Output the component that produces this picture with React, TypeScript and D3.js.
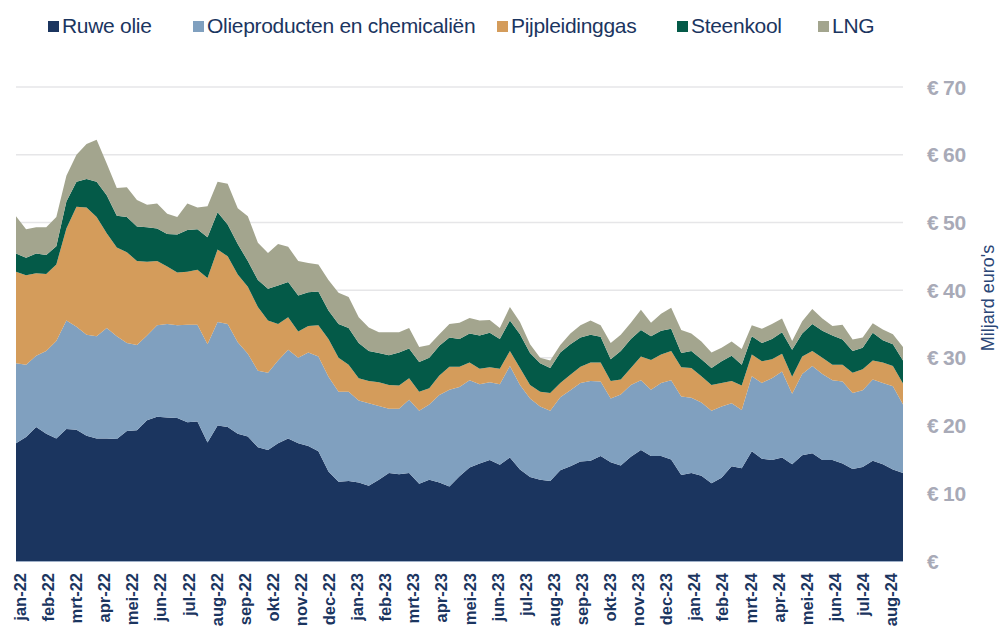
import { useEffect, useRef } from 'react';
import * as d3 from 'd3';

// Weekly-ish readings (miljard euro), jan-22 .. aug-24
const ruweOlie = [
  17.4, 18.3, 19.8, 18.8, 18.1, 19.5, 19.4, 18.5, 18.1, 18.1,
  18.0, 19.2, 19.3, 20.8, 21.3, 21.2, 21.1, 20.5, 20.6, 17.5,
  20.0, 19.8, 18.8, 18.4, 16.8, 16.4, 17.4, 18.1, 17.4, 17.0,
  16.2, 13.2, 11.7, 11.8, 11.6, 11.1, 12.0, 13.0, 12.8, 13.0,
  11.4, 12.0, 11.6, 11.0, 12.5, 13.8, 14.4, 14.9, 14.2, 15.3,
  13.5, 12.4, 12.0, 11.8, 13.4, 14.0, 14.7, 14.8, 15.5, 14.6,
  14.1, 15.4, 16.4, 15.5, 15.5, 15.0, 12.7, 13.0, 12.6, 11.5,
  12.3, 14.0, 13.7, 16.2, 15.1, 14.9, 15.3, 14.3, 15.6, 15.9,
  14.9, 14.9, 14.4, 13.6, 13.9, 14.8, 14.3, 13.5, 13.0,
];
const olieproducten = [
  11.8, 10.7, 10.5, 12.2, 14.4, 16.0, 15.2, 14.9, 15.1, 16.3,
  15.2, 13.0, 12.6, 12.5, 13.5, 13.8, 13.7, 14.4, 14.3, 14.5,
  15.3, 15.2, 13.5, 12.2, 11.3, 11.4, 12.2, 13.1, 12.6, 13.8,
  14.0, 14.0, 13.3, 13.2, 12.1, 12.2, 10.9, 9.5, 9.7, 10.8,
  10.8, 11.1, 12.9, 14.3, 13.2, 12.9, 11.7, 11.5, 11.9, 13.5,
  12.5, 11.6, 10.8, 10.4, 10.8, 11.2, 11.6, 11.8, 11.0, 9.4,
  10.5, 10.6, 10.3, 9.8, 10.8, 11.7, 11.6, 11.1, 10.8, 10.7,
  10.5, 9.3, 8.6, 11.1, 11.2, 12.1, 12.7, 10.4, 12.0, 12.9,
  12.7, 11.8, 12.1, 11.2, 11.3, 12.0, 12.0, 12.3, 10.1,
];
const pijpleidinggas = [
  13.5, 13.2, 12.2, 11.4, 11.3, 13.6, 17.7, 18.8, 17.6, 14.0,
  13.1, 13.4, 12.4, 10.9, 9.5, 8.5, 7.8, 7.8, 8.1, 9.8,
  10.7, 10.0, 10.0, 9.9, 9.4, 7.7, 5.4, 4.8, 3.9, 3.9,
  4.6, 5.6, 5.0, 4.0, 3.3, 3.3, 3.5, 3.5, 3.4, 3.2,
  2.8, 2.4, 2.9, 3.4, 3.0, 2.6, 2.3, 2.2, 2.3, 2.2,
  2.5, 2.0, 2.2, 2.6, 2.1, 2.3, 2.4, 2.7, 2.8, 2.6,
  2.2, 2.5, 3.5, 4.4, 4.2, 4.3, 4.3, 4.4, 3.9, 3.8,
  3.5, 3.3, 3.6, 3.2, 3.2, 2.8, 2.6, 2.5, 2.6, 2.2,
  2.4, 2.3, 2.5, 3.0, 3.1, 2.8, 3.0, 3.0, 3.1,
];
const steenkool = [
  2.7, 2.6, 2.9, 2.8, 2.7, 4.0, 3.7, 4.2, 5.2, 5.6,
  4.7, 5.2, 5.1, 5.1, 4.8, 4.8, 5.6, 6.2, 6.0, 6.0,
  5.5, 4.7, 4.5, 3.8, 4.0, 4.7, 5.7, 5.2, 5.3, 5.0,
  5.0, 4.2, 5.0, 5.4, 5.2, 4.4, 4.3, 4.4, 4.9, 4.4,
  4.4, 4.5, 4.4, 4.3, 4.1, 4.3, 4.9, 5.1, 4.4, 4.5,
  5.0, 4.7, 4.2, 3.7, 4.5, 4.5, 4.3, 4.1, 3.8, 3.2,
  4.2, 4.3, 3.9, 3.5, 3.5, 3.3, 2.1, 2.5, 2.5, 2.5,
  3.2, 3.7, 3.1, 2.7, 2.7, 3.0, 3.2, 4.0, 3.4, 4.0,
  4.0, 4.3, 3.7, 3.2, 3.2, 4.1, 3.3, 3.2, 3.4,
];
const lng = [
  5.5, 4.2, 3.9, 4.1, 4.3, 3.8, 4.0, 5.2, 6.2, 4.7,
  4.1, 4.4, 3.9, 3.3, 3.7, 3.0, 2.6, 3.9, 3.2, 4.6,
  4.5, 6.0, 5.3, 6.6, 5.5, 5.3, 6.1, 5.2, 5.1, 4.3,
  4.0, 4.5, 4.6, 4.6, 3.8, 3.5, 3.1, 3.4, 3.0, 3.0,
  2.2, 1.9, 1.7, 2.0, 2.4, 2.3, 2.2, 1.9, 1.6, 2.0,
  1.8, 1.3, 0.8, 1.1, 1.1, 1.6, 1.8, 2.1, 1.7, 2.4,
  2.4, 2.4, 3.0, 2.0, 2.5, 3.1, 3.4, 2.6, 2.6, 2.3,
  2.0, 2.1, 2.3, 1.6, 2.1, 2.2, 2.0, 1.3, 1.8, 2.2,
  1.8, 1.4, 2.2, 1.7, 1.5, 1.4, 1.6, 1.5, 2.0,
];

const months = [
  'jan-22', 'feb-22', 'mrt-22', 'apr-22', 'mei-22', 'jun-22', 'jul-22', 'aug-22',
  'sep-22', 'okt-22', 'nov-22', 'dec-22', 'jan-23', 'feb-23', 'mrt-23', 'apr-23',
  'mei-23', 'jun-23', 'jul-23', 'aug-23', 'sep-23', 'okt-23', 'nov-23', 'dec-23',
  'jan-24', 'feb-24', 'mrt-24', 'apr-24', 'mei-24', 'jun-24', 'jul-24', 'aug-24',
];
const yTicks = [0, 10, 20, 30, 40, 50, 60, 70];

const series = [
  { key: 'ruwe', label: 'Ruwe olie', color: '#1b355f', values: ruweOlie },
  { key: 'olie', label: 'Olieproducten en chemicaliën', color: '#80a0bf', values: olieproducten },
  { key: 'pijp', label: 'Pijpleidinggas', color: '#d49c5b', values: pijpleidinggas },
  { key: 'steen', label: 'Steenkool', color: '#045a48', values: steenkool },
  { key: 'lng', label: 'LNG', color: '#a3a58e', values: lng },
];
const legendX = [48, 193, 497, 677, 818];

const W = 1003;
const H = 628;
const FONT = '"Liberation Sans", Arial, sans-serif';

export default function App() {
  const svgRef = useRef<SVGSVGElement>(null);

  useEffect(() => {
    if (!svgRef.current) return;
    const svg = d3.select(svgRef.current);
    svg.selectAll('*').remove();

    const rows = ruweOlie.map((_, i) => {
      const r: Record<string, number> = { i };
      series.forEach(s => { r[s.key] = s.values[i]; });
      return r;
    });

    const x = d3.scaleLinear().domain([0, rows.length - 1]).range([16, 903]);
    const y = d3.scaleLinear().domain([0, 70]).range([561, 87]);
    const xm = d3.scalePoint<string>().domain(months).range([20, 891]);

    // gridlines
    svg.append('g')
      .selectAll('line')
      .data(yTicks)
      .join('line')
      .attr('x1', 16)
      .attr('x2', 903)
      .attr('y1', d => y(d))
      .attr('y2', d => y(d))
      .attr('stroke', '#e6e6e8')
      .attr('stroke-width', 1.5);

    const stack = d3.stack<Record<string, number>>().keys(series.map(s => s.key));
    const layers = stack(rows);

    const area = d3.area<d3.SeriesPoint<Record<string, number>>>()
      .x(d => x(d.data.i))
      .y0(d => y(d[0]))
      .y1(d => y(d[1]));

    svg.append('g')
      .selectAll('path')
      .data(layers)
      .join('path')
      .attr('d', d => area(d) as string)
      .attr('fill', (_d, i) => series[i].color);

    // baseline
    svg.append('line')
      .attr('x1', 16).attr('x2', 903)
      .attr('y1', y(0) + 0.5).attr('y2', y(0) + 0.5)
      .attr('stroke', '#9fb0c8').attr('stroke-width', 1);

    // y-axis labels (right)
    svg.append('g')
      .selectAll('text')
      .data(yTicks)
      .join('text')
      .attr('x', 927)
      .attr('y', d => y(d))
      .attr('dy', '0.36em')
      .attr('fill', '#a8aab7')
      .style('font-family', FONT)
      .style('font-weight', 'bold')
      .style('font-size', '21px')
      .text(d => (d === 0 ? '€' : `€\u2009${d}`));

    svg.append('text')
      .attr('transform', `translate(994,298) rotate(-90)`)
      .attr('text-anchor', 'middle')
      .attr('fill', '#2a4676')
      .style('font-family', FONT)
      .style('font-size', '18px')
      .text("Miljard euro's");

    // month labels
    svg.append('g')
      .selectAll('text')
      .data(months)
      .join('text')
      .attr('transform', d => `translate(${xm(d)! + 6},573) rotate(-90)`)
      .attr('text-anchor', 'end')
      .attr('fill', '#1b355f')
      .style('font-family', FONT)
      .style('font-weight', 'bold')
      .style('font-size', '16.5px')
      .text(d => d);

    // legend
    const lg = svg.append('g')
      .selectAll('g')
      .data(series)
      .join('g')
      .attr('transform', (_d, i) => `translate(${legendX[i]},0)`);
    lg.append('rect')
      .attr('x', 0).attr('y', 21)
      .attr('width', 11).attr('height', 11)
      .attr('fill', d => d.color);
    lg.append('text')
      .attr('x', 14).attr('y', 33)
      .attr('fill', '#1b355f')
      .style('font-family', FONT)
      .style('font-size', '21px')
      .style('letter-spacing', '-0.3px')
      .text(d => d.label);
  }, []);

  return (
    <svg
      ref={svgRef}
      width={W}
      height={H}
      style={{ position: 'absolute', left: 0, top: 0, background: '#fff' }}
    />
  );
}
